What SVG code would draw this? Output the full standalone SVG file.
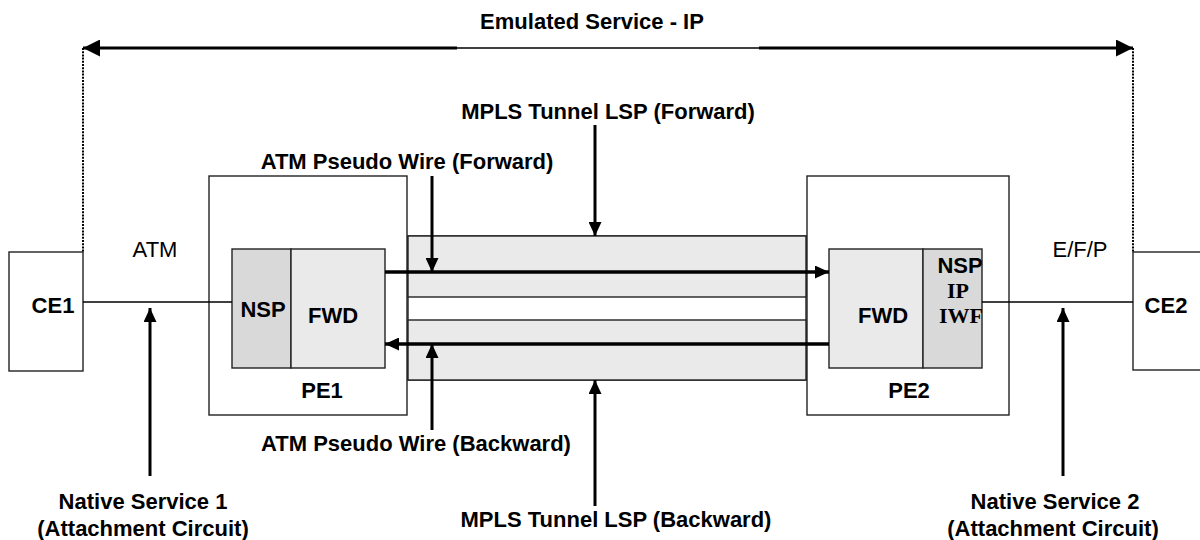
<svg xmlns="http://www.w3.org/2000/svg" width="1200" height="540" viewBox="0 0 1200 540">
  <style>
    .b { font-family: "Liberation Sans", Arial, sans-serif; font-weight: bold; font-size: 22px; fill: #000; text-anchor: middle; }
    .r { font-family: "Liberation Sans", Arial, sans-serif; font-size: 22px; fill: #000; text-anchor: middle; }
    .s { font-family: "Liberation Serif", "Times New Roman", serif; font-weight: bold; font-size: 22px; fill: #000; text-anchor: middle; }
    .box { fill: #fff; stroke: #222; stroke-width: 1.4; }
    .light { fill: #eaeaea; stroke: #222; stroke-width: 1.4; }
    .dark { fill: #d9d9d9; stroke: #222; stroke-width: 1.4; }
    .thin { stroke: #000; stroke-width: 1.4; fill: none; }
    .arr { stroke: #000; stroke-width: 3; fill: none; }
    .dot { stroke: #000; stroke-width: 2; stroke-dasharray: 2,1.2; fill: none; }
  </style>
  <defs>
    <marker id="ah" markerUnits="userSpaceOnUse" markerWidth="14" markerHeight="13" refX="14" refY="6.5" orient="auto">
      <path d="M0,0 L14,6.5 L0,13 z" fill="#000"/>
    </marker>
    <marker id="ahBig" markerUnits="userSpaceOnUse" markerWidth="17" markerHeight="17" refX="17" refY="8.5" orient="auto-start-reverse">
      <path d="M0,0 L17,8.5 L0,17 z" fill="#000"/>
    </marker>
    <clipPath id="nspclip">
      <rect x="923" y="249" width="59" height="119"/>
    </clipPath>
  </defs>

  <!-- Tunnel band -->
  <g id="tunnel">
    <rect x="408" y="236" width="398" height="144" fill="#fff" stroke="#222" stroke-width="1.4"/>
    <rect x="408" y="236" width="398" height="61" class="light"/>
    <rect x="408" y="320" width="398" height="60" class="light"/>
  </g>

  <!-- CE1 -->
  <g id="CE1">
    <rect x="9" y="252" width="74" height="119" class="box"/>
    <text x="53" y="313" class="b">CE1</text>
  </g>

  <!-- CE2 -->
  <g id="CE2">
    <rect x="1133" y="252" width="80" height="118" class="box"/>
    <text x="1166" y="313" class="b">CE2</text>
  </g>

  <!-- PE1 -->
  <g id="PE1">
    <rect x="209" y="176" width="198" height="239" class="box"/>
    <rect x="232" y="249" width="59" height="119" class="dark"/>
    <rect x="291" y="249" width="94" height="119" class="light"/>
    <text x="263" y="317" class="b">NSP</text>
    <text x="333" y="323" class="b">FWD</text>
    <text x="322" y="398" class="b">PE1</text>
  </g>

  <!-- PE2 -->
  <g id="PE2">
    <rect x="807" y="176" width="202" height="239" class="box"/>
    <rect x="829" y="249" width="94" height="119" class="light"/>
    <rect x="923" y="249" width="59" height="119" class="dark"/>
    <text x="883" y="323" class="b">FWD</text>
    <g clip-path="url(#nspclip)">
      <text x="960" y="273" class="b">NSP</text>
      <text x="958" y="298" class="s">IP</text>
      <text x="961" y="323" class="s">IWF</text>
    </g>
    <text x="909" y="398" class="b">PE2</text>
  </g>

  <!-- Connectors -->
  <g id="connectors">
    <!-- Emulated service -->
    <line x1="83" y1="48" x2="457" y2="48" class="arr" marker-start="url(#ahBig)"/>
    <line x1="457" y1="48" x2="759" y2="48" stroke="#000" stroke-width="1.6"/>
    <line x1="759" y1="48" x2="1133" y2="48" class="arr" marker-end="url(#ahBig)"/>
    <line x1="83" y1="48" x2="83" y2="252" class="dot"/>
    <line x1="1133" y1="48" x2="1133" y2="252" class="dot"/>

    <!-- Attachment circuits -->
    <line x1="83" y1="302" x2="232" y2="302" class="thin"/>
    <line x1="982" y1="302" x2="1133" y2="302" class="thin"/>

    <!-- Pseudo wires -->
    <line x1="385" y1="272" x2="829" y2="272" stroke="#000" stroke-width="3.5" marker-end="url(#ah)"/>
    <line x1="829" y1="344" x2="385" y2="344" stroke="#000" stroke-width="3.5" marker-end="url(#ah)"/>

    <!-- Pointer arrows -->
    <line x1="432" y1="176" x2="432" y2="272" class="arr" marker-end="url(#ah)"/>
    <line x1="595" y1="125" x2="595" y2="236" class="arr" marker-end="url(#ah)"/>
    <line x1="432" y1="430" x2="432" y2="344" class="arr" marker-end="url(#ah)"/>
    <line x1="595" y1="506" x2="595" y2="380" class="arr" marker-end="url(#ah)"/>
    <line x1="150" y1="476" x2="150" y2="308" class="arr" marker-end="url(#ah)"/>
    <line x1="1063" y1="476" x2="1063" y2="308" class="arr" marker-end="url(#ah)"/>
  </g>

  <!-- Labels -->
  <g id="labels">
    <text x="592" y="29" class="b">Emulated Service - IP</text>
    <text x="608" y="119" class="b">MPLS Tunnel LSP (Forward)</text>
    <text x="407" y="169" class="b">ATM Pseudo Wire (Forward)</text>
    <text x="155" y="257" class="r">ATM</text>
    <text x="1080" y="257" class="r">E/F/P</text>
    <text x="416" y="451" class="b">ATM Pseudo Wire (Backward)</text>
    <text x="616" y="527" class="b">MPLS Tunnel LSP (Backward)</text>
    <text x="143" y="509" class="b">Native Service 1</text>
    <text x="143" y="536" class="b">(Attachment Circuit)</text>
    <text x="1055" y="509" class="b">Native Service 2</text>
    <text x="1053" y="536" class="b">(Attachment Circuit)</text>
  </g>
</svg>
